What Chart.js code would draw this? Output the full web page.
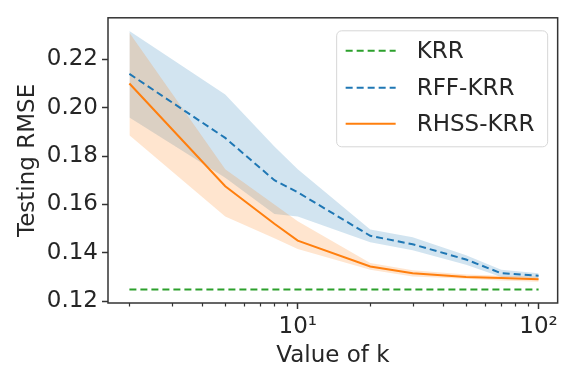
<!DOCTYPE html>
<html>
<head>
<meta charset="utf-8">
<script src="https://cdn.jsdelivr.net/npm/chart.js@4/dist/chart.umd.min.js"></script>
<style>
  html, body { margin: 0; padding: 0; background: #fff; }
  #wrap { width: 562px; height: 367px; }
</style>
</head>
<body>
<div id="wrap"><canvas id="c" width="562" height="367"></canvas></div>
<script>
// ---- data ----
const kValues   = [2, 5, 8, 10, 20, 30, 50, 70, 100];
const krrRmse   = [0.1248, 0.1248, 0.1248, 0.1248, 0.1248, 0.1248, 0.1248, 0.1248, 0.1248];
const rffMean   = [0.2140, 0.1875, 0.1700, 0.1650, 0.1470, 0.1435, 0.1372, 0.1315, 0.1305];
const rffUpper  = [0.2317, 0.2055, 0.1840, 0.1745, 0.1496, 0.1464, 0.1390, 0.1330, 0.1315];
const rffLower  = [0.1960, 0.1710, 0.1560, 0.1550, 0.1443, 0.1410, 0.1350, 0.1300, 0.1295];
const rhssMean  = [0.2100, 0.1675, 0.1520, 0.1450, 0.1343, 0.1315, 0.1300, 0.1295, 0.1290];
const rhssUpper = [0.2310, 0.1745, 0.1600, 0.1530, 0.1357, 0.1328, 0.1310, 0.1305, 0.1302];
const rhssLower = [0.1886, 0.1550, 0.1460, 0.1415, 0.1330, 0.1302, 0.1292, 0.1285, 0.1280];
const seriesNames = ['KRR', 'RFF-KRR', 'RHSS-KRR'];
const yTicks = [0.12, 0.14, 0.16, 0.18, 0.20, 0.22];
const xMajorTicks = [10, 100];
const xMajorLabels = ['10\u00B9', '10\u00B2'];
const xMinorTicks = [2, 3, 4, 5, 6, 7, 8, 9, 20, 30, 40, 50, 60, 70, 80, 90];
const xLabel = 'Value of k';
const yLabel = 'Testing RMSE';

const pts = arr => kValues.map((k, i) => ({ x: k, y: arr[i] }));
const FONT = 'DejaVu Sans';
const INK = '#262626';
const GREEN = '#2ca02c', BLUE = '#1f77b4', ORANGE = '#ff7f0e';

const frameAndMinor = {
  id: 'frameAndMinor',
  afterDatasetsDraw(chart) {
    const { ctx, chartArea: a, scales } = chart;
    ctx.save();
    ctx.strokeStyle = '#333';
    ctx.lineWidth = 1.5;
    ctx.strokeRect(a.left, a.top, a.right - a.left, a.bottom - a.top);
    ctx.lineWidth = 1.2;
    ctx.beginPath();
    xMinorTicks.forEach(v => {
      const px = Math.round(scales.x.getPixelForValue(v)) + 0.5;
      ctx.moveTo(px, a.bottom);
      ctx.lineTo(px, a.bottom + 3.5);
    });
    ctx.stroke();
    ctx.restore();
  }
};

const boxLegend = {
  id: 'boxLegend',
  afterDraw(chart) {
    const { ctx, chartArea: a } = chart;
    const w = 211, h = 116;
    const x0 = a.right - 10 - w, y0 = a.top + 13;
    ctx.save();
    ctx.beginPath();
    ctx.roundRect(x0, y0, w, h, 5);
    ctx.fillStyle = 'rgba(255,255,255,0.8)';
    ctx.fill();
    ctx.strokeStyle = '#d6d6d6';
    ctx.lineWidth = 1;
    ctx.stroke();
    const rows = [20, 57, 93];
    for (let i = 0; i < 3; i++) {
      const ds = chart.data.datasets[i];
      const yy = y0 + rows[i];
      ctx.beginPath();
      ctx.setLineDash(ds.borderDash || []);
      ctx.strokeStyle = ds.borderColor;
      ctx.lineWidth = ds.borderWidth;
      ctx.moveTo(x0 + 9, yy);
      ctx.lineTo(x0 + 59, yy);
      ctx.stroke();
      ctx.setLineDash([]);
      ctx.fillStyle = INK;
      ctx.font = '23px "' + FONT + '"';
      ctx.textBaseline = 'middle';
      ctx.textAlign = 'left';
      ctx.fillText(ds.label, x0 + 80, yy + 1);
    }
    ctx.restore();
  }
};

new Chart(document.getElementById('c'), {
  type: 'line',
  data: {
    datasets: [
      { label: seriesNames[0], data: pts(krrRmse), borderColor: GREEN, borderWidth: 2, borderDash: [7, 4], pointRadius: 0, fill: false, order: 0 },
      { label: seriesNames[1], data: pts(rffMean), borderColor: BLUE, borderWidth: 2, borderDash: [7, 4], pointRadius: 0, fill: false, order: 0 },
      { label: seriesNames[2], data: pts(rhssMean), borderColor: ORANGE, borderWidth: 2, pointRadius: 0, fill: false, order: 0 },
      { label: 'rffU', data: pts(rffUpper), borderWidth: 0, borderColor: 'rgba(0,0,0,0)', pointRadius: 0, fill: false, order: 2 },
      { label: 'rffL', data: pts(rffLower), borderWidth: 0, borderColor: 'rgba(0,0,0,0)', pointRadius: 0, fill: '-1', backgroundColor: 'rgba(31,119,180,0.2)', order: 2 },
      { label: 'rhssU', data: pts(rhssUpper), borderWidth: 0, borderColor: 'rgba(0,0,0,0)', pointRadius: 0, fill: false, order: 1 },
      { label: 'rhssL', data: pts(rhssLower), borderWidth: 0, borderColor: 'rgba(0,0,0,0)', pointRadius: 0, fill: '-1', backgroundColor: 'rgba(255,127,14,0.2)', order: 1 }
    ]
  },
  options: {
    responsive: false,
    animation: false,
    devicePixelRatio: 1,
    layout: { padding: { top: 9, right: 4, left: 0, bottom: 0 } },
    plugins: { legend: { display: false }, tooltip: { enabled: false } },
    elements: { line: { tension: 0 } },
    scales: {
      x: {
        type: 'logarithmic',
        min: 1.63, max: 120,
        afterBuildTicks: s => { s.ticks = xMajorTicks.map(v => ({ value: v, major: true })); },
        afterFit: s => { s.height = 64; },
        border: { display: false },
        grid: { display: true, drawOnChartArea: false, drawTicks: true, tickLength: 6, tickColor: '#333', tickWidth: 1.5 },
        ticks: {
          autoSkip: false, maxRotation: 0, padding: 4, color: INK,
          font: { family: FONT, size: 23 },
          callback: (v) => { const i = xMajorTicks.indexOf(v); return i >= 0 ? xMajorLabels[i] : ''; }
        },
        title: { display: true, text: xLabel, color: INK, font: { family: FONT, size: 23, lineHeight: 1 }, padding: { top: 0, bottom: -1 } }
      },
      y: {
        type: 'linear',
        min: 0.1192, max: 0.2372,
        afterBuildTicks: s => { s.ticks = yTicks.map(v => ({ value: v })); },
        afterFit: s => { s.width = 108; },
        border: { display: false },
        grid: { display: true, drawOnChartArea: false, drawTicks: true, tickLength: 6, tickColor: '#333', tickWidth: 1.5 },
        ticks: {
          padding: 4, color: INK,
          font: { family: FONT, size: 23 },
          callback: v => v.toFixed(2)
        },
        title: { display: true, text: yLabel, color: INK, font: { family: FONT, size: 23, lineHeight: 1 }, padding: { top: 17, bottom: 0 } }
      }
    }
  },
  plugins: [frameAndMinor, boxLegend]
});
</script>
</body>
</html>
